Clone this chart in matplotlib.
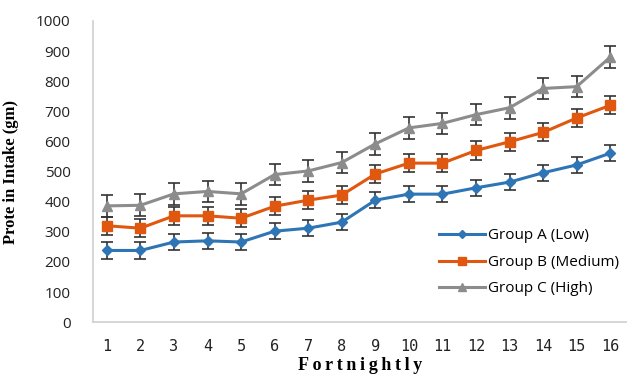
import numpy as np
import matplotlib.pyplot as plt
from matplotlib.lines import Line2D

fortnight = np.arange(1, 17)
group_a = [238, 238, 266, 270, 266, 302, 312, 332, 405, 425, 425, 446, 465, 496, 522, 561]
group_b = [320, 312, 353, 353, 345, 385, 405, 422, 492, 528, 528, 570, 599, 630, 678, 720]
group_c = [386, 388, 426, 434, 426, 490, 502, 530, 592, 645, 660, 689, 712, 776, 782, 880]
err_a = [27] * 16
err_b = [30] * 16
err_c = [36] * 16
labels = ['Group A (Low)', 'Group B (Medium)', 'Group C (High)']

fig = plt.figure(figsize=(6.27, 3.75), dpi=100)
ax = fig.add_axes([0.148, 0.141, 0.852, 0.803])

series = [
    (group_a, err_a, '#2E75B6', 'D', 5),
    (group_b, err_b, '#E0580F', 's', 6.5),
    (group_c, err_c, '#8C8C8C', '^', 7),
]
handles = []
for (vals, err, col, mk, ms), lab in zip(series, labels):
    ax.errorbar(fortnight, vals, yerr=err, color=col, marker=mk, markersize=ms,
                linewidth=2.2, ecolor='#333333', elinewidth=1.2, capsize=4,
                capthick=1.2, zorder=3)
    handles.append(Line2D([], [], color=col, marker=mk, markersize=ms * 0.8,
                          linewidth=2.2, label=lab))

ax.set_xlim(0.58, 16.5)
ax.set_ylim(0, 1000)
ax.set_xticks(fortnight)
ax.set_yticks(range(0, 1001, 100))
ax.tick_params(length=0, labelcolor='#222222')
ax.tick_params(axis='y', labelsize=11, pad=16, labelfontfamily='Open Sans')
ax.tick_params(axis='x', labelsize=11, pad=12, labelfontfamily='DejaVu Sans Mono')

for s in ['top', 'right']:
    ax.spines[s].set_visible(False)
for s in ['left', 'bottom']:
    ax.spines[s].set_color('#cfcfcf')
    ax.spines[s].set_linewidth(1.2)

ax.set_ylabel('Prote in Intake (gm)', family='Liberation Serif', fontweight='bold',
              fontsize=12, labelpad=12)
ax.set_xlabel('\u2009'.join('Fortnightly'), family='Liberation Serif',
              fontweight='bold', fontsize=13, labelpad=2)

ax.legend(handles=handles, loc='lower right', bbox_to_anchor=(1.01, 0.04),
          frameon=False, handlelength=3.0, handletextpad=0.15, labelspacing=0.75,
          prop={'family': 'Open Sans', 'size': 11})

fig.savefig('out.png', dpi=100)
